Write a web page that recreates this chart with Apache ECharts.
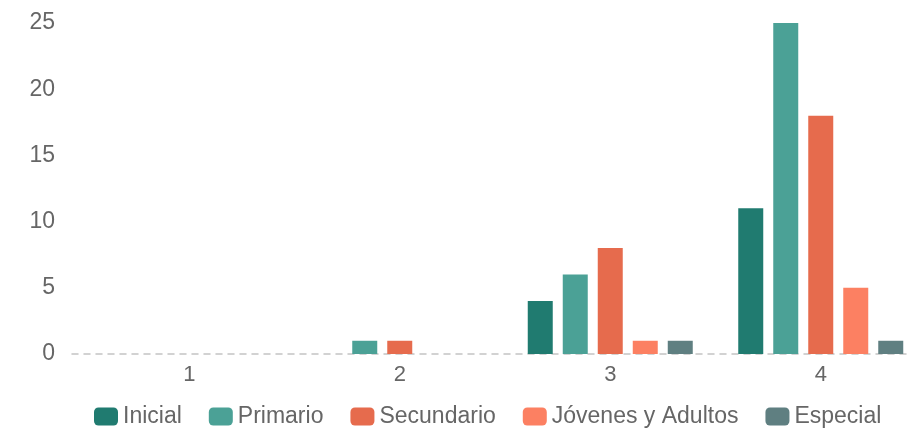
<!DOCTYPE html>
<html>
<head>
<meta charset="utf-8">
<script src="https://cdn.jsdelivr.net/npm/echarts@6/dist/echarts.min.js"></script>
<style>
    html, body { margin: 0; padding: 0; overflow: hidden; background: #fff; }
    #chart { width: 960px; height: 428px; }
</style>
</head>
<body>
<div id="chart"></div>
<script>
// datos
var categorias = ['1', '2', '3', '4'];
var inicial = [0, 0, 4, 11];
var primario = [0, 1, 6, 25];
var secundario = [0, 1, 8, 18];
var jovenes = [0, 0, 1, 5];
var especial = [0, 0, 1, 1];
var nombres = ['Inicial', 'Primario', 'Secundario', 'Jóvenes y Adultos', 'Especial'];
var colores = ['#207b70', '#4ba196', '#e66b4d', '#fc8062', '#5f7f81'];

var myChart = echarts.init(document.getElementById('chart'));
var valores = [inicial, primario, secundario, jovenes, especial];
var series = [];
for (var i = 0; i < nombres.length; i++) {
    series.push({
        name: nombres[i],
        type: 'bar',
        xAxisIndex: 0,
        yAxisIndex: 0,
        barWidth: 25,
        barGap: '40%',
        itemStyle: {color: colores[i]},
        data: valores[i]
    });
}

var option = {
    animation: false,
    textStyle: {fontFamily: 'Liberation Sans, Arial, sans-serif'},
    color: colores,
    grid: [
        {left: 84, top: 23, width: 842, height: 331},
        //solo para la linea punteada del cero
        {left: 72, top: 23, width: 854, height: 331}
    ],
    legend: {
        data: nombres,
        left: 89,
        top: 400,
        itemWidth: 24,
        itemHeight: 18,
        itemGap: 27,
        icon: 'roundRect',
        textStyle: {fontSize: 23, color: '#666'}
    },
    xAxis: [{
        type: 'category',
        gridIndex: 0,
        data: categorias,
        axisLine: {show: false},
        axisTick: {show: false},
        axisLabel: {fontSize: 22, color: '#666', margin: 10}
    }, {
        type: 'value',
        gridIndex: 1,
        axisLine: {show: true, lineStyle: {color: '#c4c4c4', type: [6, 6], width: 1.5}},
        axisTick: {show: false},
        axisLabel: {show: false},
        splitLine: {show: false}
    }],
    yAxis: [{
        type: 'value',
        gridIndex: 0,
        min: 0,
        max: 25,
        interval: 5,
        axisLine: {show: false},
        axisTick: {show: false},
        splitLine: {show: false},
        axisLabel: {fontSize: 23, color: '#666', margin: 29}
    }, {
        type: 'value',
        gridIndex: 1,
        show: false
    }],
    series: series
};
myChart.setOption(option);
</script>
</body>
</html>
